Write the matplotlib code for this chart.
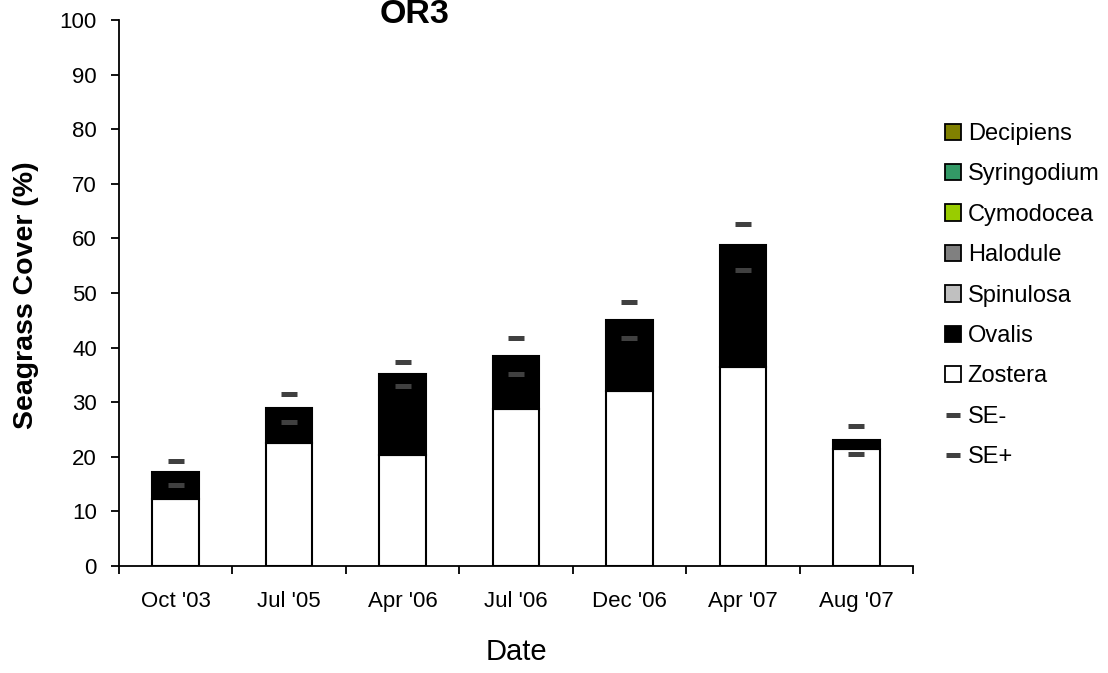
import matplotlib
matplotlib.use("Agg")
import matplotlib.pyplot as plt
from matplotlib.patches import Patch
from matplotlib.lines import Line2D
import numpy as np

plt.rcParams['font.family'] = ['Liberation Sans', 'DejaVu Sans']

dates = ["Oct '03", "Jul '05", "Apr '06", "Jul '06", "Dec '06", "Apr '07", "Aug '07"]
zostera = [12.3, 22.5, 20.3, 28.7, 32.0, 36.5, 21.5]
ovalis = [5.0, 6.4, 14.9, 9.8, 13.1, 22.2, 1.6]
spinulosa = [0, 0, 0, 0, 0, 0, 0]
halodule = [0, 0, 0, 0, 0, 0, 0]
cymodocea = [0, 0, 0, 0, 0, 0, 0]
syringodium = [0, 0, 0, 0, 0, 0, 0]
decipiens = [0, 0, 0, 0, 0, 0, 0]
se_minus = [14.9, 26.3, 33.0, 35.2, 41.7, 54.2, 20.5]
se_plus = [19.3, 31.5, 37.4, 41.8, 48.3, 62.6, 25.6]

species = [
    ("Zostera", zostera, "#FFFFFF"),
    ("Ovalis", ovalis, "#000000"),
    ("Spinulosa", spinulosa, "#C0C0C0"),
    ("Halodule", halodule, "#808080"),
    ("Cymodocea", cymodocea, "#99CC00"),
    ("Syringodium", syringodium, "#339966"),
    ("Decipiens", decipiens, "#808000"),
]
se_color = "#404040"

W, H = 1108, 673
fig = plt.figure(figsize=(W/100, H/100), dpi=100)
ax = fig.add_axes([119/W, 107/H, (913-119)/W, (566-20)/H])

x = np.arange(len(dates))
bottom = np.zeros(len(dates))
for name, vals, col in species:
    v = np.array(vals, dtype=float)
    if v.sum() > 0:
        ax.bar(x, v, bottom=bottom, width=0.41, color=col, edgecolor="black",
               linewidth=1.5, zorder=2)
    bottom += v

ax.plot(x, se_minus, linestyle="none", marker="_", markersize=11.5,
        markeredgewidth=3.6, color=se_color, zorder=3)
ax.plot(x, se_plus, linestyle="none", marker="_", markersize=11.5,
        markeredgewidth=3.6, color=se_color, zorder=3)

ax.set_xlim(-0.5, len(dates) - 0.5)
ax.set_ylim(0, 100)
ax.set_yticks(np.arange(0, 101, 10))
ax.set_xticks(x)
ax.set_xticklabels(dates)
ax.set_xticks(np.arange(-0.5, len(dates), 1.0), minor=True)
ax.tick_params(axis="x", which="major", length=0, labelsize=16, pad=18)
ax.tick_params(axis="x", which="minor", length=6, width=1.3, direction="out")
ax.tick_params(axis="y", length=6, width=1.3, direction="out", labelsize=16, pad=10)
for s in ["top", "right"]:
    ax.spines[s].set_visible(False)
for s in ["left", "bottom"]:
    ax.spines[s].set_linewidth(1.3)

fig.text(26/W, 1 - 295/H, "Seagrass Cover (%)", fontsize=20.5, fontweight="bold",
         rotation=90, ha="center", va="center")
fig.text(516/W, 1 - 652/H, "Date", fontsize=21, ha="center", va="center")
fig.text(415/W, 1 - 23/H, "OR3", fontsize=24.5, fontweight="bold",
         ha="center", va="baseline")

handles = []
labels = []
for name, vals, col in reversed(species):
    handles.append(Patch(facecolor=col, edgecolor="black", linewidth=1.3))
    labels.append(name)
handles.append(Line2D([], [], linestyle="none", marker="_", markersize=10,
                      markeredgewidth=3.6, color=se_color))
labels.append("SE-")
handles.append(Line2D([], [], linestyle="none", marker="_", markersize=10,
                      markeredgewidth=3.6, color=se_color))
labels.append("SE+")

fig.legend(handles, labels, loc="upper left", bbox_to_anchor=(945/W, 1 - 123/H),
           frameon=False, fontsize=17, handlelength=0.68, handleheight=0.68,
           handletextpad=0.28, labelspacing=0.78, borderaxespad=0, borderpad=0)

fig.savefig("out.png", dpi=100)
